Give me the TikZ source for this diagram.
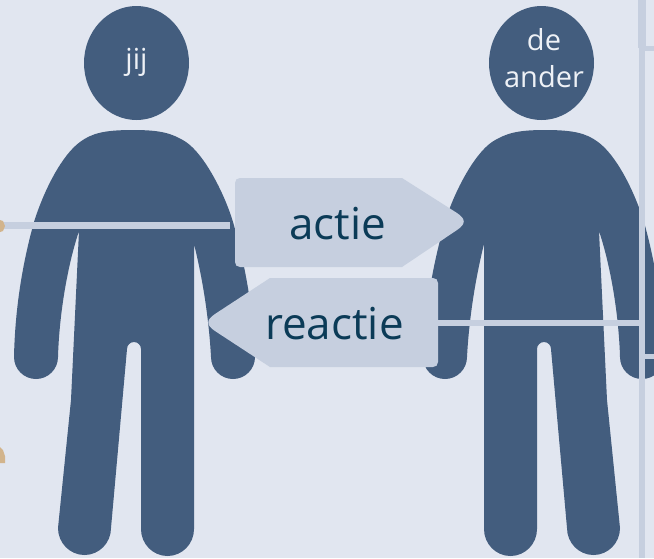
\documentclass[tikz,border=0pt]{standalone}
\usepackage{fontspec}
\setmainfont{Open Sans}
\definecolor{bgc}{HTML}{E1E6F0}
\definecolor{figc}{HTML}{435D7E}
\definecolor{barc}{HTML}{C6CFDF}
\definecolor{txtc}{HTML}{0B3B57}
\definecolor{headc}{HTML}{EEF1F6}
\definecolor{tanc}{HTML}{D2B48C}
\tikzset{
  bodyfill/.style={fill=figc,draw=none},
  arrowbox/.style={fill=barc,draw=none,rounded corners=5pt},
  bar/.style={draw=barc,line width=6.5pt},
  biglabel/.style={text=txtc,font=\fontsize{44}{44}\selectfont,inner sep=0pt},
  headlabel/.style={text=headc,font=\fontsize{29}{37}\selectfont,align=center,inner sep=0pt},
}
\newcommand{\personshape}{%
  \fill[bodyfill] (136.5,63) ellipse [x radius=52.5,y radius=57];
  \fill[bodyfill]
    (133,130)
    .. controls (105,130) and (92,133) .. (80,142)
    .. controls (62,155) and (44,190) .. (34,222)
    .. controls (22,265) and (15,310) .. (14,357)
    arc [start angle=180,end angle=0,radius=22]
    .. controls (59,320) and (66,270) .. (79,231)
    -- (71,400) -- (58,528)
    arc [start angle=180,end angle=0,x radius=26.5,y radius=27]
    -- (127,349)
    arc [start angle=180,end angle=360,radius=7]
    -- (141,529)
    arc [start angle=180,end angle=0,x radius=26.5,y radius=27]
    -- (194,244)
    .. controls (203,280) and (209,320) .. (211,357)
    arc [start angle=180,end angle=0,radius=22]
    .. controls (254,320) and (247,270) .. (233,222)
    .. controls (225,195) and (205,155) .. (186,142)
    .. controls (172,133) and (160,130) .. (133,130)
    -- cycle;
}
\begin{document}
\begin{tikzpicture}[x=1pt,y=-1pt]
\useasboundingbox (0,0) rectangle (654,558);
\fill[bgc] (0,0) rectangle (654,558);
% figures
\personshape
\begin{scope}[xshift=678pt,xscale=-1]
\personshape
\end{scope}
% free ends of the connectors
\coordinate (leftend) at (0,225.5);
\coordinate (leftstop) at (230,225.5);
\coordinate (rstart) at (438,323);
\coordinate (rstop) at (645,323);
\coordinate (vtop) at (642,0);
\coordinate (vbot) at (642,558);
\coordinate (vtop2) at (642,48);
\coordinate (b1) at (642,48);
\coordinate (b1e) at (654,48);
\coordinate (b2) at (642,356);
\coordinate (b2e) at (654,356);
% arrows
\fill[barc] (240,178) -- (402,178) -- (457,213)
  .. controls (466,219) and (466,224) .. (457,230)
  -- (402,267) -- (240,267)
  .. controls (237,267) and (235,265) .. (235,262)
  -- (235,183)
  .. controls (235,180) and (237,178) .. (240,178) -- cycle;
\fill[barc] (433,278) -- (270,278) -- (215,314)
  .. controls (206,320) and (206,325) .. (215,331)
  -- (270,367) -- (433,367)
  .. controls (436,367) and (438,365) .. (438,362)
  -- (438,283)
  .. controls (438,280) and (436,278) .. (433,278) -- cycle;
% text
\node[biglabel] (actie) at (337.5,224) {actie};
\node[biglabel] (reactie) at (334.5,324) {reactie};
\node[headlabel] (jij) at (136.5,62) {jij};
\node[headlabel] (ander) at (544,58) {de\\ander};
% connectors
\draw[bar] (leftend) -- (leftstop);
\draw[bar] (rstart) -- (rstop);
\draw[draw=barc,line width=6pt] (vtop) -- (vbot);
\draw[draw=barc,line width=7.5pt] (vtop) -- (vtop2);
\draw[draw=barc,line width=5pt] (b1) -- (b1e);
\draw[draw=barc,line width=5pt] (b2) -- (b2e);
% small fragments at the left edge
\fill[tanc] (0,220) -- (3,221) -- (5,226) -- (3,231) -- (0,232) -- cycle;
\fill[tanc] (0,447) -- (3,450) -- (5,456) -- (5,463) -- (0,463) -- cycle;
\end{tikzpicture}
\end{document}
